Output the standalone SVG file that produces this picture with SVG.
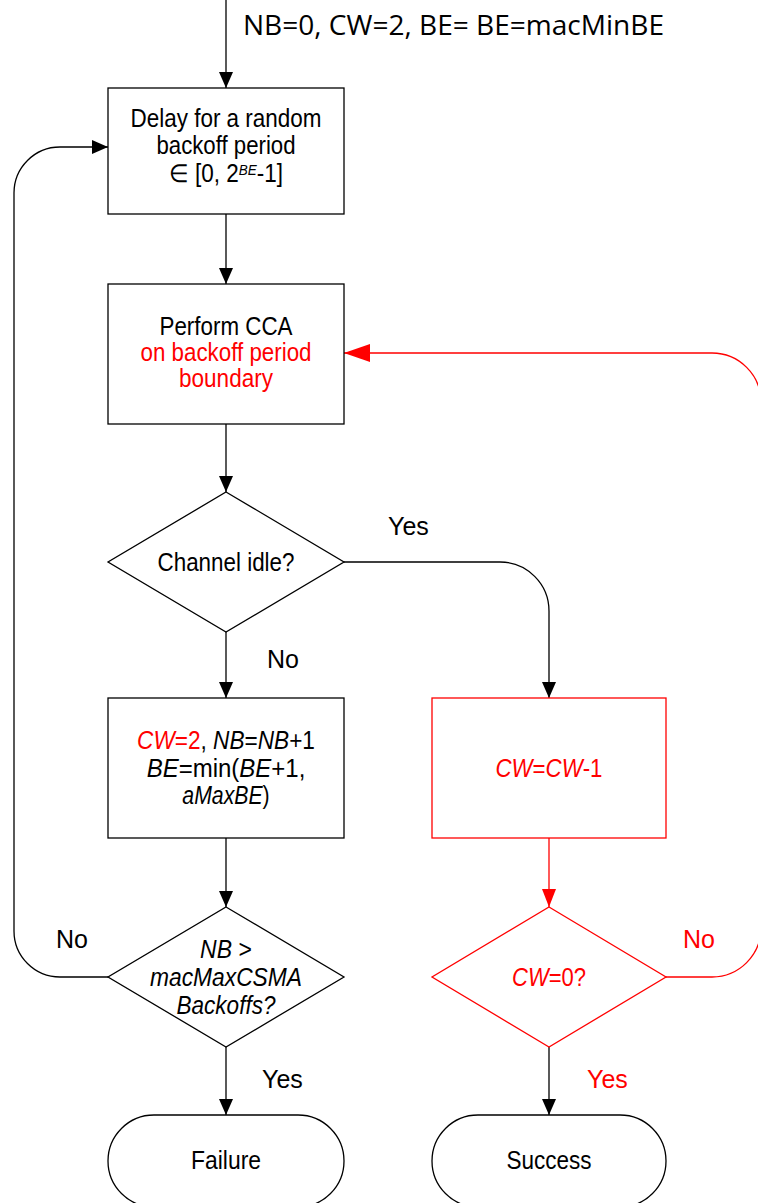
<svg xmlns="http://www.w3.org/2000/svg" width="758" height="1203" viewBox="0 0 758 1203">
<defs>
<style>
.n{fill:#fff;stroke:#000;stroke-width:1.3}
.r{fill:#fff;stroke:#f00;stroke-width:1.3}
.c{fill:none;stroke:#000;stroke-width:1.3}
.cr{fill:none;stroke:#f00;stroke-width:1.3}
text{font-family:"Liberation Sans",Arial,sans-serif;font-size:25px;text-anchor:middle;fill:#000}
.lab{font-size:25px;text-anchor:start}
.red{fill:#f00}
.i{font-style:italic}
.top{font-family:"Open Sans","Liberation Sans",sans-serif;font-size:28px;text-anchor:start}
</style>
<marker id="a" markerWidth="16" markerHeight="20" refX="16" refY="7" orient="auto" markerUnits="userSpaceOnUse" viewBox="0 0 16 14"><path d="M0,0 L16,7 L0,14 Z" fill="#000"/></marker>
<marker id="ar" markerWidth="18" markerHeight="20" refX="18" refY="7" orient="auto" markerUnits="userSpaceOnUse" viewBox="0 0 18 14"><path d="M0,0 L18,7 L0,14 Z" fill="#f00"/></marker>
<marker id="arl" markerWidth="26" markerHeight="20" refX="26" refY="9" orient="auto" markerUnits="userSpaceOnUse" viewBox="0 0 26 18"><path d="M0,0 L26,9 L0,18 Z" fill="#f00"/></marker>
</defs>

<g id="connectors">
<path class="c" d="M226,0 V88" marker-end="url(#a)"/>
<path class="c" d="M226,214 V284" marker-end="url(#a)"/>
<path class="c" d="M226,424 V492" marker-end="url(#a)"/>
<path class="c" d="M226,632 V698" marker-end="url(#a)"/>
<path class="c" d="M344,562 H500 A49,49 0 0 1 549,611 V698" marker-end="url(#a)"/>
<path class="c" d="M226,838 V907" marker-end="url(#a)"/>
<path class="cr" d="M549,838 V907" marker-end="url(#ar)"/>
<path class="c" d="M108,977 H60 A46,46 0 0 1 14,931 V193 A46,46 0 0 1 60,147 H108" marker-end="url(#a)"/>
<path class="cr" d="M666,977 H712 A49,49 0 0 0 761,928 V402 A49,49 0 0 0 712,353 H344" marker-end="url(#arl)"/>
<path class="c" d="M226,1047 V1115" marker-end="url(#a)"/>
<path class="c" d="M549,1047 V1115" marker-end="url(#a)"/>
<text class="top" x="243" y="35" textLength="421" lengthAdjust="spacingAndGlyphs">NB=0, CW=2, BE= BE=macMinBE</text>
<text class="lab" x="388" y="535">Yes</text>
<text class="lab" x="267" y="668">No</text>
<text class="lab" x="56" y="948">No</text>
<text class="lab red" x="683" y="948">No</text>
<text class="lab" x="262" y="1088">Yes</text>
<text class="lab red" x="587" y="1088">Yes</text>
</g>

<g id="delay">
<rect class="n" x="108" y="88" width="236" height="126"/>
<text x="226" y="127" textLength="191" lengthAdjust="spacingAndGlyphs">Delay for a random</text>
<text x="226" y="154" textLength="139" lengthAdjust="spacingAndGlyphs">backoff period</text>
<text transform="translate(226,182) scale(0.9,1)" x="0" y="0">∈ [0, 2<tspan class="i" font-size="15" dy="-7">BE</tspan><tspan dy="7">-1]</tspan></text>
</g>

<g id="cca">
<rect class="n" x="108" y="284" width="236" height="140"/>
<text x="226" y="335" textLength="133" lengthAdjust="spacingAndGlyphs">Perform CCA</text>
<text class="red" x="226" y="361" textLength="171" lengthAdjust="spacingAndGlyphs">on backoff period</text>
<text class="red" x="226" y="387" textLength="94" lengthAdjust="spacingAndGlyphs">boundary</text>
</g>

<g id="idle">
<polygon class="n" points="226,492 344,562 226,632 108,562"/>
<text x="226" y="571" textLength="137" lengthAdjust="spacingAndGlyphs">Channel idle?</text>
</g>

<g id="update">
<rect class="n" x="108" y="698" width="236" height="140"/>
<text transform="translate(226,749) scale(0.905,1)" x="0" y="0"><tspan class="red i">CW</tspan><tspan class="red">=2</tspan>, <tspan class="i">NB</tspan>=<tspan class="i">NB</tspan>+1</text>
<text transform="translate(226,777) scale(0.96,1)" x="0" y="0"><tspan class="i">BE</tspan>=min(<tspan class="i">BE</tspan>+1,</text>
<text transform="translate(226,804) scale(0.85,1)" x="0" y="0"><tspan class="i">aMaxBE</tspan>)</text>
</g>

<g id="dec">
<rect class="r" x="432" y="698" width="234" height="140"/>
<text class="red" transform="translate(549,777) scale(0.89,1)" x="0" y="0"><tspan class="i">CW</tspan>=<tspan class="i">CW</tspan>-1</text>
</g>

<g id="nbcheck">
<polygon class="n" points="226,907 344,977 226,1047 108,977"/>
<text transform="translate(226,958) scale(0.92,1)" x="0" y="0"><tspan class="i">NB</tspan> &gt;</text>
<text class="i" x="226" y="986" textLength="152" lengthAdjust="spacingAndGlyphs">macMaxCSMA</text>
<text class="i" x="226" y="1014" textLength="99" lengthAdjust="spacingAndGlyphs">Backoffs?</text>
</g>

<g id="cwcheck">
<polygon class="r" points="549,907 666,977 549,1047 432,977"/>
<text class="red" transform="translate(549,986) scale(0.88,1)" x="0" y="0"><tspan class="i">CW</tspan>=0?</text>
</g>

<g id="failure">
<rect class="n" x="108" y="1115" width="236" height="92" rx="46" ry="46"/>
<text x="226" y="1169" textLength="70" lengthAdjust="spacingAndGlyphs">Failure</text>
</g>

<g id="success">
<rect class="n" x="432" y="1115" width="234" height="92" rx="46" ry="46"/>
<text x="549" y="1169" textLength="85" lengthAdjust="spacingAndGlyphs">Success</text>
</g>
</svg>
